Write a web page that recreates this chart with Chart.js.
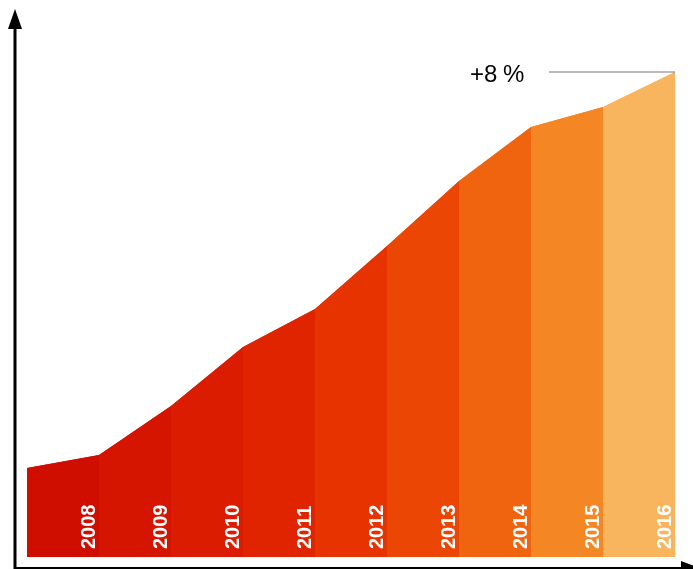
<!DOCTYPE html>
<html>
<head>
<meta charset="utf-8">
<script src="https://cdn.jsdelivr.net/npm/chart.js@4"></script>
<style>
  body { margin: 0; background: #fff; }
  #wrap { width: 693px; height: 569px; position: relative; }
</style>
</head>
<body>
<div id="wrap"><canvas id="growthChart"></canvas></div>
<script>
const years = ['2008', '2009', '2010', '2011', '2012', '2013', '2014', '2015', '2016'];
const growthValues = [89, 102, 151, 210, 248, 311, 376, 430, 450, 485];
const segmentColors = ['#cf0e00', '#d61500', '#dc1c00', '#e02400', '#e63300', '#ec4604', '#f0640f', '#f58624', '#f9b55d'];
const changeLabel = ['+8', '%'];

const points = growthValues.map((v, i) => ({ x: i, y: v }));

// same area drawn twice so the band edges don't leave light seams
function areaDataset(order) {
  return {
    data: points,
    order: order,
    fill: 'origin',
    borderWidth: 0,
    pointRadius: 0,
    tension: 0,
    backgroundColor: segmentColors[0],
    segment: {
      backgroundColor: ctx => segmentColors[ctx.p0DataIndex],
      borderColor: ctx => segmentColors[ctx.p0DataIndex]
    }
  };
}

const overlay = {
  id: 'overlay',
  afterDatasetsDraw(chart) {
    const c = chart.ctx;
    const xs = chart.scales.x, ys = chart.scales.y;

    // year labels at the right edge of each band
    c.save();
    c.fillStyle = '#ffffff';
    c.font = 'bold 20px "Liberation Sans", Arial, sans-serif';
    c.textAlign = 'left';
    c.textBaseline = 'middle';
    years.forEach((yr, i) => {
      const x = xs.getPixelForValue(i + 1) - 10;
      c.save();
      c.translate(x, ys.bottom - 8);
      c.rotate(-Math.PI / 2);
      c.fillText(yr, 0, 0);
      c.restore();
    });
    c.restore();

    // change marker at the last point
    const lastY = ys.getPixelForValue(growthValues[growthValues.length - 1]);
    const lastX = xs.getPixelForValue(growthValues.length - 1);
    c.save();
    c.strokeStyle = '#777777';
    c.lineWidth = 1.2;
    c.beginPath();
    c.moveTo(549, lastY);
    c.lineTo(lastX, lastY);
    c.stroke();
    c.fillStyle = '#000000';
    c.font = '24px "Liberation Sans", Arial, sans-serif';
    c.textAlign = 'left';
    c.textBaseline = 'alphabetic';
    c.fillText(changeLabel[0], 470, lastY + 10);
    c.fillText(changeLabel[1], 503, lastY + 10);
    c.restore();

    // axes with arrows
    c.save();
    c.strokeStyle = '#000';
    c.fillStyle = '#000';
    c.lineWidth = 3;
    c.beginPath();
    c.moveTo(15, 569);
    c.lineTo(15, 26);
    c.stroke();
    c.beginPath();
    c.moveTo(15, 9);
    c.lineTo(8, 29);
    c.lineTo(22, 29);
    c.closePath();
    c.fill();
    c.lineWidth = 2;
    c.beginPath();
    c.moveTo(15, 568);
    c.lineTo(684, 568);
    c.stroke();
    c.beginPath();
    c.moveTo(700, 568);
    c.lineTo(681, 561);
    c.lineTo(681, 575);
    c.closePath();
    c.fill();
    c.restore();
  }
};

new Chart(document.getElementById('growthChart').getContext('2d'), {
  type: 'line',
  data: { datasets: [areaDataset(2), areaDataset(1)] },
  options: {
    responsive: true,
    maintainAspectRatio: false,
    animation: false,
    layout: { padding: { left: 27, right: 18, top: 72, bottom: 12 } },
    plugins: { legend: { display: false }, tooltip: { enabled: false } },
    scales: {
      x: { type: 'linear', min: 0, max: 9, display: false },
      y: { min: 0, max: 485, display: false }
    }
  },
  plugins: [overlay]
});
</script>
</body>
</html>
